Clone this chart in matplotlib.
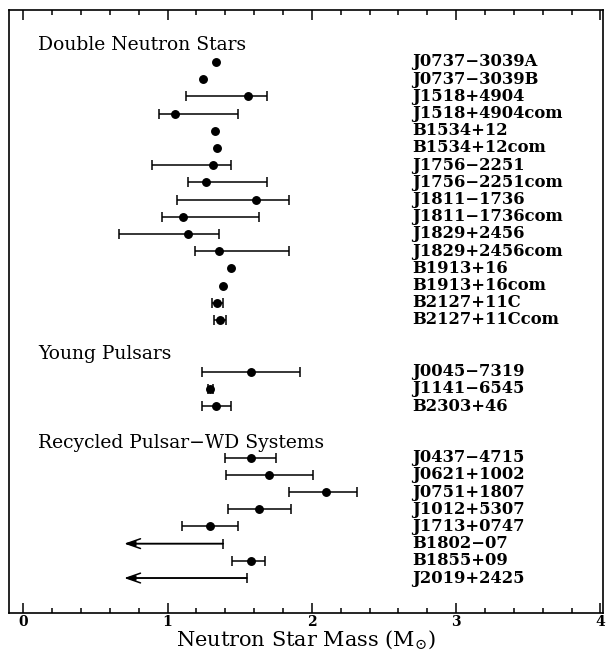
import matplotlib
matplotlib.use('Agg')
import numpy as np
import matplotlib.pyplot as plt
from matplotlib.ticker import MultipleLocator

plt.rcParams['font.family'] = 'DejaVu Serif'
plt.rcParams['mathtext.fontset'] = 'dejavuserif'

# ---- data (masses in solar masses) ----
dns_names = ['J0737-3039A', 'J0737-3039B', 'J1518+4904', 'J1518+4904com',
             'B1534+12', 'B1534+12com', 'J1756-2251', 'J1756-2251com',
             'J1811-1736', 'J1811-1736com', 'J1829+2456', 'J1829+2456com',
             'B1913+16', 'B1913+16com', 'B2127+11C', 'B2127+11Ccom']
dns_mass = [1.334, 1.248, 1.558, 1.050, 1.332, 1.343, 1.318, 1.267,
            1.616, 1.110, 1.140, 1.357, 1.438, 1.383, 1.343, 1.362]
dns_lo = [np.nan, np.nan, 1.126, 0.939, np.nan, np.nan, 0.895, 1.144,
          1.068, 0.960, 0.666, 1.189, np.nan, np.nan, 1.309, 1.320]
dns_hi = [np.nan, np.nan, 1.688, 1.491, np.nan, np.nan, 1.438, 1.688,
          1.840, 1.634, 1.359, 1.840, np.nan, np.nan, 1.383, 1.408]

young_names = ['J0045-7319', 'J1141-6545', 'B2303+46']
young_mass = [1.579, 1.297, 1.336]
young_lo = [1.241, 1.277, 1.241]
young_hi = [1.919, 1.317, 1.440]

rec_names = ['J0437-4715', 'J0621+1002', 'J0751+1807', 'J1012+5307',
             'J1713+0747', 'B1802-07', 'B1855+09', 'J2019+2425']
rec_mass = [1.579, 1.700, 2.097, 1.637, 1.297, np.nan, 1.577, np.nan]
rec_lo = [1.396, 1.406, 1.840, 1.418, 1.100, np.nan, 1.449, np.nan]
rec_hi = [1.752, 2.011, 2.310, 1.852, 1.490, 1.385, 1.678, 1.549]

groups = [('Double Neutron Stars', 0, dns_names, dns_mass, dns_lo, dns_hi),
          ('Young Pulsars', 18, young_names, young_mass, young_lo, young_hi),
          ('Recycled Pulsar-WD Systems', 23, rec_names, rec_mass, rec_lo, rec_hi)]
################################
fig = plt.figure(figsize=(6.07, 6.5), dpi=100)
ax = fig.add_axes([9.3/607, 36.7/650, 594/607, 603.3/650])

arrow_end = 0.70
name_x = 2.693
label_x = 0.104
fs = 11.8

for title, start, names, mass, lo, hi in groups:
    rows = start + np.arange(len(names))
    mass = np.array(mass); lo = np.array(lo); hi = np.array(hi)
    ax.text(label_x, start - 1 if start != 23 else start - 0.85,
            title.replace('-', '\u2212'), fontsize=13.5,
            va='center', ha='left')
    for r, n in zip(rows, names):
        ax.text(name_x, r, n.replace('-', '\u2212'), fontsize=fs,
                fontweight='bold', va='center', ha='left')
    has_err = ~np.isnan(lo) & ~np.isnan(mass)
    ax.errorbar(mass[has_err], rows[has_err],
                xerr=[mass[has_err] - lo[has_err], hi[has_err] - mass[has_err]],
                fmt='none', ecolor='k', elinewidth=1.1, capsize=3.6,
                capthick=1.1)
    ok = ~np.isnan(mass)
    ax.plot(mass[ok], rows[ok], 'o', color='k', ms=5.4, mec='k')
    # upper limits
    lim = np.isnan(mass)
    for r, h in zip(rows[lim], hi[lim]):
        ax.annotate('', xy=(arrow_end, r), xytext=(h, r),
                    arrowprops=dict(arrowstyle='->,head_length=1.0,head_width=0.35',
                                    lw=1.1, color='k', shrinkA=0, shrinkB=0))
        ax.annotate('', xy=(arrow_end, r), xytext=(h, r),
                    arrowprops=dict(arrowstyle='-|>,head_length=0.6,head_width=0.15',
                                    lw=1.1, color='k', shrinkA=0, shrinkB=0))
        ax.plot(h, r, marker='|', color='k', ms=7.2, mew=1.1)

ax.set_xlim(-0.097, 4.02)
ax.set_ylim(32.05, -3.02)
ax.set_yticks([])
ax.xaxis.set_major_locator(MultipleLocator(1))
ax.xaxis.set_minor_locator(MultipleLocator(0.2))
ax.tick_params(axis='x', which='both', direction='in', top=True, bottom=True,
               labelsize=10, pad=1, width=1.1)
ax.tick_params(axis='x', which='major', length=7.5)
ax.tick_params(axis='x', which='minor', length=3.6)
for lbl in ax.get_xticklabels():
    lbl.set_fontweight('bold')
for s in ax.spines.values():
    s.set_linewidth(1.2)
ax.set_xlabel(r'Neutron Star Mass (M$_{\odot}$)', fontsize=15, labelpad=0)

plt.savefig('out.png', dpi=100)
